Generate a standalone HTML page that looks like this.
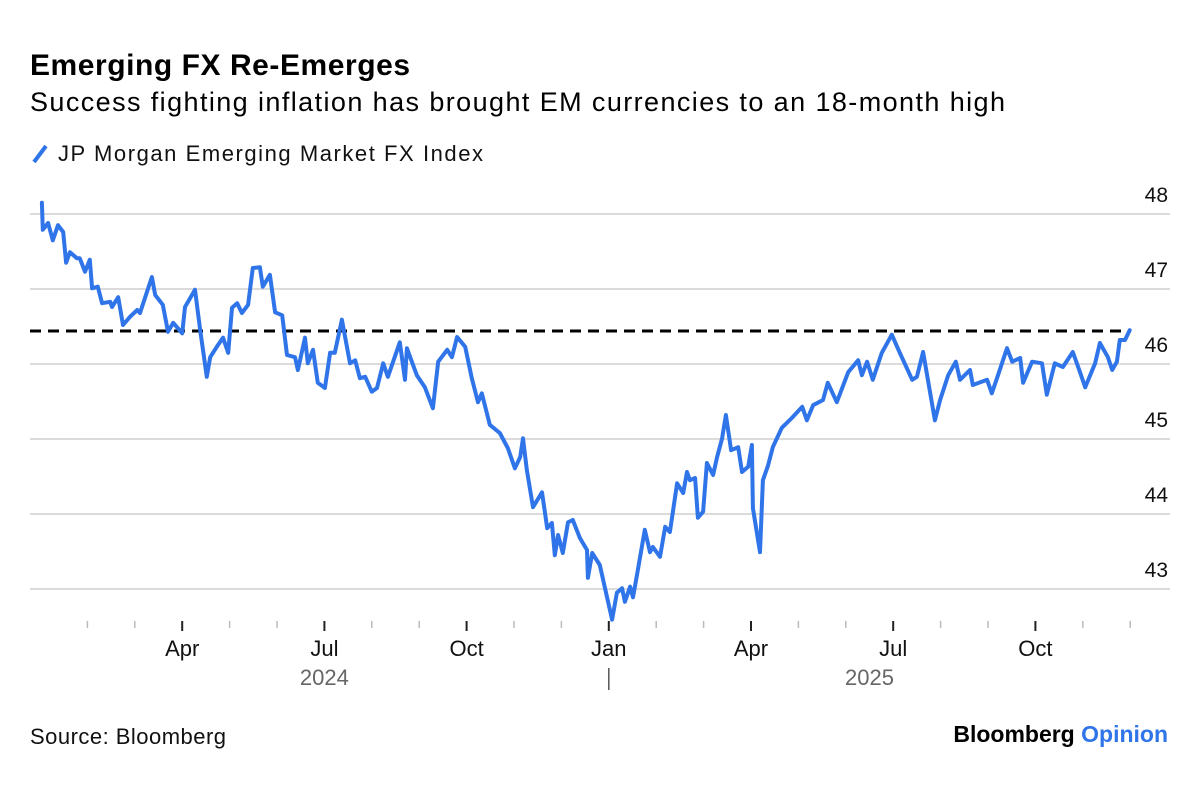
<!DOCTYPE html>
<html><head><meta charset="utf-8"><style>
body{margin:0;background:#fff;width:1200px;height:783px;overflow:hidden;font-family:"Liberation Sans",Arial,sans-serif}
</style></head><body>
<svg width="1200" height="783" xmlns="http://www.w3.org/2000/svg" font-family="Liberation Sans, Arial, sans-serif">
<text x="30" y="75" font-size="30" font-weight="bold" fill="#000" textLength="380">Emerging FX Re-Emerges</text>
<text x="30" y="111" font-size="27" fill="#000" textLength="975">Success fighting inflation has brought EM currencies to an 18-month high</text>
<g>
<line x1="34" y1="162" x2="46" y2="146" stroke="#2f74e8" stroke-width="4"/>
<text x="58" y="161" font-size="22" fill="#111" textLength="425">JP Morgan Emerging Market FX Index</text>
</g>
<g id="grid"></g>
<g id="yl"></g>
<g id="xt"></g>
<g id="ser"></g>
<text x="30" y="744" font-size="22" fill="#111" textLength="196">Source: Bloomberg</text>
<text x="1168" y="742" font-size="23" font-weight="bold" text-anchor="end"><tspan fill="#000">Bloomberg </tspan><tspan fill="#2f74e8">Opinion</tspan></text>
</svg>
<script>
const yTicks=[48,47,46,45,44,43];
const monthLabels=["Apr","Jul","Oct","Jan","Apr","Jul","Oct"];
const yearLabels=["2024","2025"];
const refLevel=46.44;
const months=[.04,.06,.17,.27,.38,.49,.55,.63,.78,.84,.95,1.05,1.10,1.22,1.31,1.48,1.52,1.65,1.75,1.90,2.05,2.11,2.22,2.36,2.43,2.59,2.70,2.81,3.00,3.06,3.27,3.38,3.52,3.59,3.73,3.86,3.97,4.05,4.16,4.26,4.39,4.49,4.64,4.70,4.85,4.96,5.11,5.21,5.38,5.44,5.59,5.65,5.76,5.86,6.01,6.12,6.22,6.37,6.54,6.65,6.75,6.86,7.00,7.11,7.24,7.34,7.59,7.70,7.74,7.95,8.12,8.29,8.40,8.59,8.69,8.80,8.97,9.11,9.24,9.32,9.49,9.70,9.87,10.02,10.13,10.19,10.27,10.40,10.59,10.70,10.80,10.86,10.93,11.03,11.14,11.24,11.39,11.54,11.56,11.65,11.81,12.07,12.17,12.28,12.34,12.45,12.51,12.62,12.76,12.87,12.93,13.08,13.19,13.29,13.44,13.57,13.65,13.71,13.82,13.88,13.99,14.07,14.20,14.28,14.39,14.47,14.58,14.73,14.81,14.94,15.02,15.04,15.19,15.25,15.36,15.46,15.65,15.86,16.08,16.18,16.31,16.52,16.62,16.81,17.05,17.26,17.34,17.45,17.57,17.76,17.97,18.14,18.40,18.50,18.63,18.88,18.99,19.16,19.32,19.41,19.62,19.68,19.98,20.08,20.19,20.40,20.51,20.68,20.74,20.93,21.14,21.24,21.41,21.58,21.79,21.94,22.05,22.26,22.36,22.53,22.62,22.72,22.78,22.89,22.99];
const values=[48.15,47.79,47.88,47.65,47.85,47.76,47.35,47.49,47.41,47.41,47.23,47.39,47.01,47.03,46.81,46.83,46.76,46.89,46.52,46.63,46.72,46.68,46.89,47.16,46.92,46.79,46.43,46.55,46.41,46.76,46.99,46.45,45.83,46.09,46.23,46.35,46.15,46.75,46.81,46.68,46.79,47.28,47.29,47.03,47.19,46.69,46.65,46.12,46.09,45.92,46.35,46.01,46.19,45.75,45.68,46.15,46.15,46.59,46.01,46.05,45.81,45.83,45.63,45.68,46.01,45.83,46.29,45.79,46.21,45.85,45.69,45.41,46.03,46.19,46.09,46.36,46.23,45.81,45.49,45.61,45.19,45.08,44.88,44.61,44.76,45.01,44.59,44.09,44.29,43.81,43.88,43.45,43.72,43.48,43.89,43.92,43.68,43.52,43.15,43.48,43.32,42.59,42.95,43.01,42.83,43.03,42.89,43.28,43.79,43.49,43.56,43.43,43.83,43.76,44.41,44.28,44.56,44.45,44.48,43.95,44.03,44.68,44.52,44.75,45.01,45.32,44.85,44.89,44.56,44.63,44.92,44.08,43.49,44.45,44.65,44.89,45.15,45.28,45.43,45.25,45.45,45.52,45.75,45.49,45.89,46.05,45.85,46.03,45.79,46.15,46.39,46.15,45.79,45.83,46.16,45.25,45.52,45.85,46.03,45.79,45.92,45.72,45.79,45.61,45.81,46.21,46.03,46.08,45.75,46.03,46.01,45.59,46.01,45.96,46.16,45.89,45.69,46.01,46.28,46.09,45.92,46.03,46.32,46.32,46.45];
const NS="http://www.w3.org/2000/svg";
const X=m=>40+m*47.4, Y=v=>214+(48-v)*75;
function mk(t,a,p){const e=document.createElementNS(NS,t);for(const k in a)e.setAttribute(k,a[k]);p.appendChild(e);return e;}
const grid=document.getElementById('grid'),yl=document.getElementById('yl'),xt=document.getElementById('xt'),ser=document.getElementById('ser');
yTicks.forEach(v=>{
 const l=mk('line',{x1:30,x2:1170,y1:Y(v),y2:Y(v),stroke:'#cfcfcf','stroke-width':1.5},grid);
 
 
 const t=mk('text',{x:1168,y:Y(v)-12,'font-size':21,'text-anchor':'end',fill:'#111'},yl);
 t.textContent=v;
 
 
});
for(let m=1;m<=23;m++){
 const major=m%3===0;
 const l=mk('line',{x1:X(m),x2:X(m),y1:621,y2:major?631:628,stroke:major?'#222':'#bbb','stroke-width':major?2:1.5},xt);
 
 
}
monthLabels.forEach((s,i)=>{
 const t=mk('text',{x:X((i+1)*3),y:656,'font-size':22,'text-anchor':'middle',fill:'#111'},xt);
 t.textContent=s;
 
 
});
yearLabels.forEach((s,i)=>{
 const t=mk('text',{x:X(6+i*11.5),y:685,'font-size':22,'text-anchor':'middle',fill:'#666'},xt);
 t.textContent=s;
 
 
});
const sep=mk('line',{x1:X(12),x2:X(12),y1:668,y2:690,stroke:'#555','stroke-width':1.5},xt);


const ref=mk('line',{x1:30,x2:X(23),y1:Y(refLevel),y2:Y(refLevel),stroke:'#000','stroke-width':3,'stroke-dasharray':'11 7'},ser);


const pts=months.map((m,i)=>X(m).toFixed(1)+','+Y(values[i]).toFixed(1)).join(' ');
const pl=mk('polyline',{points:pts,fill:'none',stroke:'#2f74e8','stroke-width':4,'stroke-linejoin':'round','stroke-linecap':'round'},ser);


</script>
</body></html>
